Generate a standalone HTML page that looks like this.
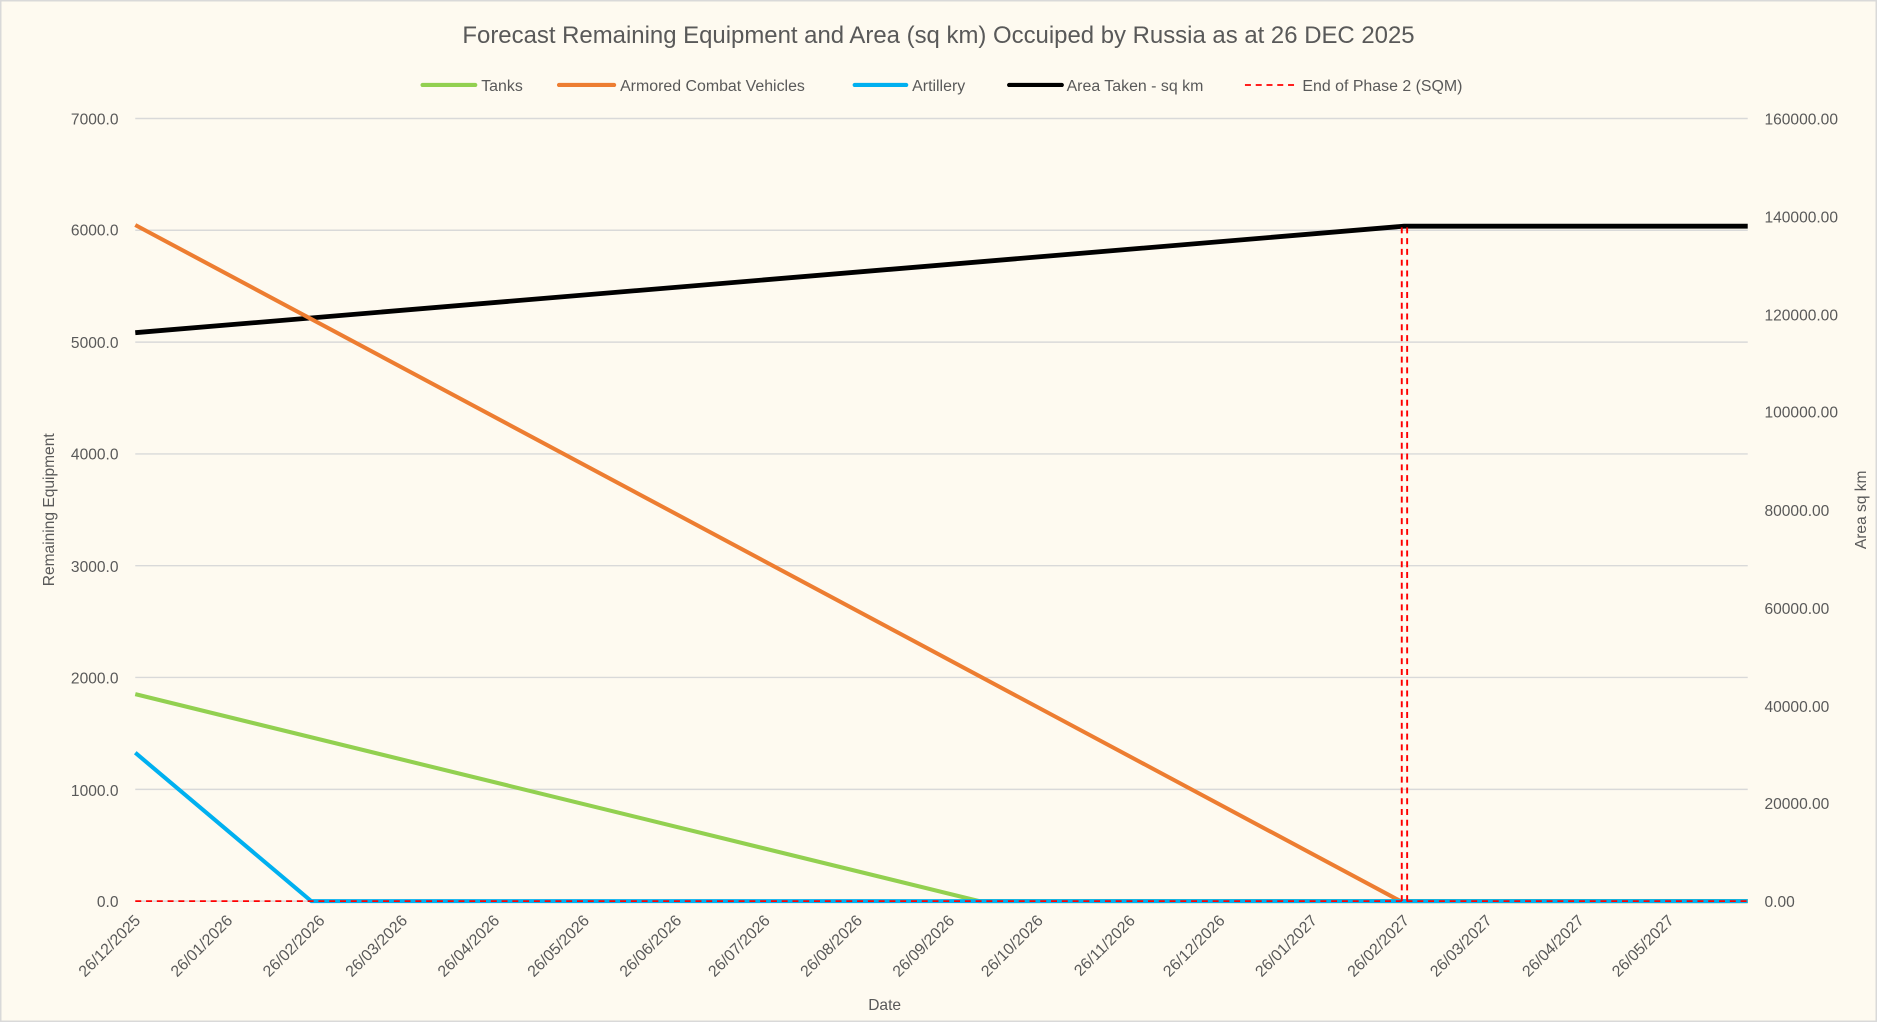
<!DOCTYPE html>
<html><head><meta charset="utf-8"><style>
html,body{margin:0;padding:0;background:#fefaf0;}
svg{display:block;}
text{font-family:"Liberation Sans",sans-serif;fill:#595959;}
</style></head><body>
<svg width="1877" height="1022" viewBox="0 0 1568 854" preserveAspectRatio="none">
<rect x="0.5" y="0.5" width="1567" height="853" fill="#fefaf0" stroke="#d9d9d9" stroke-width="1.5"/>
<text x="784" y="36" font-size="20" text-anchor="middle">Forecast Remaining Equipment and Area (sq km) Occuiped by Russia as at 26 DEC 2025</text>
<g font-size="13.3">
<line x1="353" y1="71" x2="397" y2="71" stroke="#92d050" stroke-width="3.5" stroke-linecap="round"/><text x="402" y="76">Tanks</text>
<line x1="467" y1="71" x2="513" y2="71" stroke="#ed7d31" stroke-width="3.5" stroke-linecap="round"/><text x="518" y="76">Armored Combat Vehicles</text>
<line x1="714" y1="71" x2="757" y2="71" stroke="#00b0f0" stroke-width="3.5" stroke-linecap="round"/><text x="762" y="76">Artillery</text>
<line x1="843" y1="71" x2="887" y2="71" stroke="#000" stroke-width="3.5" stroke-linecap="round"/><text x="891" y="76">Area Taken - sq km</text>
<line x1="1040" y1="71" x2="1083" y2="71" stroke="#ff0000" stroke-width="1.5" stroke-dasharray="5,4"/><text x="1088" y="76">End of Phase 2 (SQM)</text>
</g>
<g stroke="#d9d9d9" stroke-width="1.2">
<line x1="113" y1="99" x2="1460" y2="99"/>
<line x1="113" y1="192.4" x2="1460" y2="192.4"/>
<line x1="113" y1="285.9" x2="1460" y2="285.9"/>
<line x1="113" y1="379.3" x2="1460" y2="379.3"/>
<line x1="113" y1="472.7" x2="1460" y2="472.7"/>
<line x1="113" y1="566.1" x2="1460" y2="566.1"/>
<line x1="113" y1="659.6" x2="1460" y2="659.6"/>
<line x1="113" y1="753" x2="1460" y2="753"/>
</g>
<g font-size="13" text-anchor="end">
<text x="99" y="104">7000.0</text><text x="99" y="197">6000.0</text><text x="99" y="291">5000.0</text>
<text x="99" y="384">4000.0</text><text x="99" y="478">3000.0</text><text x="99" y="571">2000.0</text>
<text x="99" y="665">1000.0</text><text x="99" y="758">0.0</text>
</g>
<g font-size="13">
<text x="1474" y="104">160000.00</text><text x="1474" y="186">140000.00</text><text x="1474" y="268">120000.00</text>
<text x="1474" y="349">100000.00</text><text x="1474" y="431">80000.00</text><text x="1474" y="513">60000.00</text>
<text x="1474" y="595">40000.00</text><text x="1474" y="676">20000.00</text><text x="1474" y="758">0.00</text>
</g>
<text transform="translate(45,426) rotate(-90)" font-size="13" text-anchor="middle">Remaining Equipment</text>
<text transform="translate(1559,426) rotate(-90)" font-size="13" text-anchor="middle">Area sq km</text>
<text x="739" y="844" font-size="13" text-anchor="middle">Date</text>
<g font-size="13.3" text-anchor="end">
<text transform="translate(118,770) rotate(-45)">26/12/2025</text>
<text transform="translate(195,770) rotate(-45)">26/01/2026</text>
<text transform="translate(272,770) rotate(-45)">26/02/2026</text>
<text transform="translate(341,770) rotate(-45)">26/03/2026</text>
<text transform="translate(418,770) rotate(-45)">26/04/2026</text>
<text transform="translate(493,770) rotate(-45)">26/05/2026</text>
<text transform="translate(570,770) rotate(-45)">26/06/2026</text>
<text transform="translate(644,770) rotate(-45)">26/07/2026</text>
<text transform="translate(721,770) rotate(-45)">26/08/2026</text>
<text transform="translate(798,770) rotate(-45)">26/09/2026</text>
<text transform="translate(872,770) rotate(-45)">26/10/2026</text>
<text transform="translate(949,770) rotate(-45)">26/11/2026</text>
<text transform="translate(1024,770) rotate(-45)">26/12/2026</text>
<text transform="translate(1101,770) rotate(-45)">26/01/2027</text>
<text transform="translate(1178,770) rotate(-45)">26/02/2027</text>
<text transform="translate(1247,770) rotate(-45)">26/03/2027</text>
<text transform="translate(1324,770) rotate(-45)">26/04/2027</text>
<text transform="translate(1399,770) rotate(-45)">26/05/2027</text>
</g>
<polyline points="113,278 1173,189 1460,189" fill="none" stroke="#000" stroke-width="4" stroke-linejoin="round"/>
<polyline points="113,188 1170,753 1460,753" fill="none" stroke="#ed7d31" stroke-width="3.4" stroke-linejoin="round"/>
<polyline points="113,580 818,753 1460,753" fill="none" stroke="#92d050" stroke-width="3.4" stroke-linejoin="round"/>
<polyline points="113,629 260,753 1460,753" fill="none" stroke="#00b0f0" stroke-width="3.4" stroke-linejoin="round"/>
<line x1="113" y1="753" x2="1460" y2="753" stroke="#ff0000" stroke-width="1.5" stroke-dasharray="5,4"/>
<line x1="1171" y1="190" x2="1171" y2="753" stroke="#ff0000" stroke-width="1.6" stroke-dasharray="5,4"/>
<line x1="1175.5" y1="190" x2="1175.5" y2="753" stroke="#ff0000" stroke-width="1.6" stroke-dasharray="5,4"/>
</svg>
</body></html>
